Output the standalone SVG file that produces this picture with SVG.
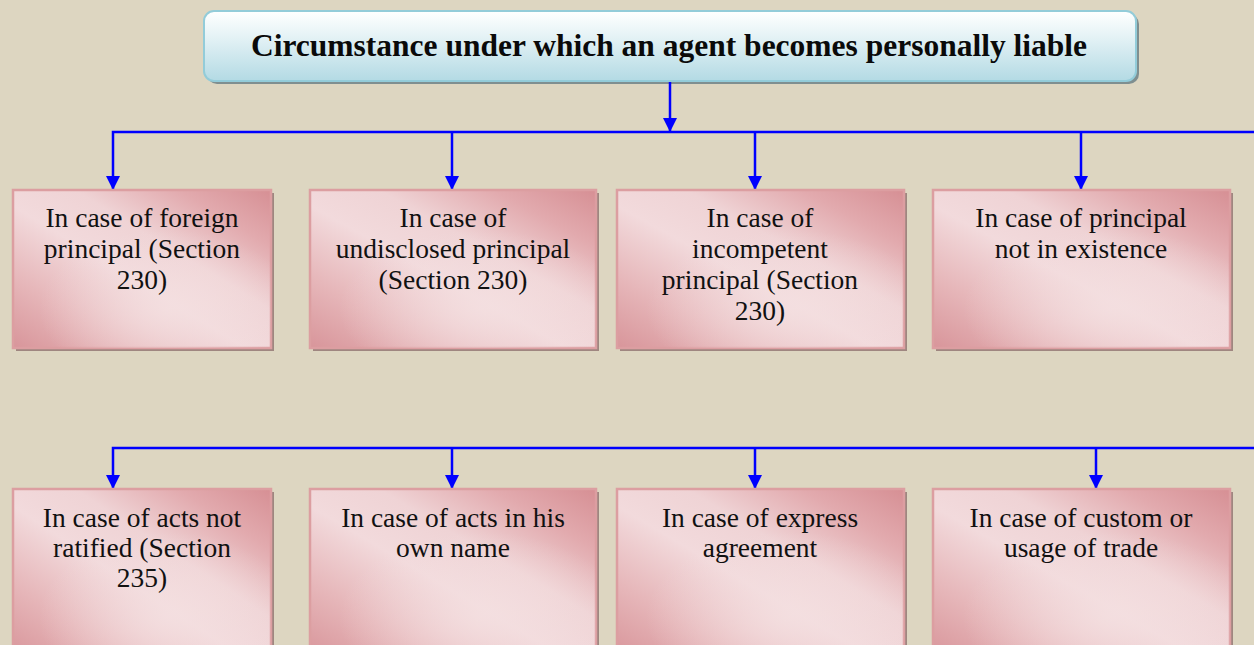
<svg xmlns="http://www.w3.org/2000/svg" width="1254" height="645" viewBox="0 0 1254 645">
<defs>
<linearGradient id="hdr" x1="0" y1="0" x2="0" y2="1">
<stop offset="0" stop-color="#ffffff"/>
<stop offset="0.35" stop-color="#e6f3f6"/>
<stop offset="1" stop-color="#b3dae4"/>
</linearGradient>
<linearGradient id="pink" x1="0" y1="1" x2="1" y2="0">
<stop offset="0" stop-color="#d8959a"/>
<stop offset="0.22" stop-color="#e6b6b9"/>
<stop offset="0.45" stop-color="#f2dadc"/>
<stop offset="0.62" stop-color="#efd3d5"/>
<stop offset="0.82" stop-color="#e2aaae"/>
<stop offset="1" stop-color="#d68f94"/>
</linearGradient>
<radialGradient id="glow" cx="0.6" cy="0.75" r="0.5">
<stop offset="0" stop-color="#f4e0e1" stop-opacity="0.8"/>
<stop offset="1" stop-color="#f4e0e1" stop-opacity="0"/>
</radialGradient>
<marker id="ah" markerWidth="14" markerHeight="14" viewBox="0 0 14 14" refX="14" refY="7" orient="auto" markerUnits="userSpaceOnUse">
<path d="M0,0 L14,7 L0,14 Z" fill="#0000ff"/>
</marker>
</defs>
<style>
.bg{fill:#ddd6c1}
.shd{fill:#9f8680}
.box{fill:url(#pink);stroke:#dc9ea1;stroke-width:2.5}
.glo{fill:url(#glow)}
.lbl{font-family:"Liberation Serif","Times New Roman",serif;font-size:27.5px;fill:#111;text-anchor:middle}
.ttl{font-family:"Liberation Serif","Times New Roman",serif;font-size:31.5px;font-weight:bold;fill:#0a0a0a;text-anchor:middle}
.con{fill:none;stroke:#0000ff;stroke-width:2.5}
</style>
<rect class="bg" x="0" y="0" width="1254" height="645"/>

<g id="header">
<rect x="207" y="14" width="932" height="70" rx="10" fill="#7f8f90"/>
<rect x="204" y="11" width="932" height="70" rx="10" fill="url(#hdr)" stroke="#93ccd9" stroke-width="2"/>
<text class="ttl" x="669" y="56">Circumstance under which an agent becomes personally liable</text>
</g>

<g id="connectors">
<path class="con" d="M670,82 V132" marker-end="url(#ah)"/>
<path class="con" d="M1254,132 H113 V190" marker-end="url(#ah)"/>
<path class="con" d="M452,132 V190" marker-end="url(#ah)"/>
<path class="con" d="M755,132 V190" marker-end="url(#ah)"/>
<path class="con" d="M1081,132 V190" marker-end="url(#ah)"/>
<path class="con" d="M1254,448 H113 V489" marker-end="url(#ah)"/>
<path class="con" d="M452,448 V489" marker-end="url(#ah)"/>
<path class="con" d="M755,448 V489" marker-end="url(#ah)"/>
<path class="con" d="M1096,448 V489" marker-end="url(#ah)"/>
</g>

<g id="n1">
<rect class="shd" x="16" y="193" width="258" height="158"/>
<rect class="box" x="13" y="190" width="258" height="158"/>
<rect class="glo" x="13" y="190" width="258" height="158"/>
<text class="lbl" x="142" y="227">In case of foreign</text>
<text class="lbl" x="142" y="258">principal (Section</text>
<text class="lbl" x="142" y="289">230)</text>
</g>
<g id="n2">
<rect class="shd" x="313" y="193" width="286" height="158"/>
<rect class="box" x="310" y="190" width="286" height="158"/>
<rect class="glo" x="310" y="190" width="286" height="158"/>
<text class="lbl" x="453" y="227">In case of</text>
<text class="lbl" x="453" y="258">undisclosed principal</text>
<text class="lbl" x="453" y="289">(Section 230)</text>
</g>
<g id="n3">
<rect class="shd" x="620" y="193" width="287" height="158"/>
<rect class="box" x="617" y="190" width="287" height="158"/>
<rect class="glo" x="617" y="190" width="287" height="158"/>
<text class="lbl" x="760" y="227">In case of</text>
<text class="lbl" x="760" y="258">incompetent</text>
<text class="lbl" x="760" y="289">principal (Section</text>
<text class="lbl" x="760" y="320">230)</text>
</g>
<g id="n4">
<rect class="shd" x="936" y="193" width="297" height="158"/>
<rect class="box" x="933" y="190" width="297" height="158"/>
<rect class="glo" x="933" y="190" width="297" height="158"/>
<text class="lbl" x="1081" y="227">In case of principal</text>
<text class="lbl" x="1081" y="258">not in existence</text>
</g>
<g id="n5">
<rect class="shd" x="16" y="492" width="258" height="170"/>
<rect class="box" x="13" y="489" width="258" height="170"/>
<rect class="glo" x="13" y="489" width="258" height="170"/>
<text class="lbl" x="142" y="527">In case of acts not</text>
<text class="lbl" x="142" y="557">ratified (Section</text>
<text class="lbl" x="142" y="587">235)</text>
</g>
<g id="n6">
<rect class="shd" x="313" y="492" width="286" height="170"/>
<rect class="box" x="310" y="489" width="286" height="170"/>
<rect class="glo" x="310" y="489" width="286" height="170"/>
<text class="lbl" x="453" y="527">In case of acts in his</text>
<text class="lbl" x="453" y="557">own name</text>
</g>
<g id="n7">
<rect class="shd" x="620" y="492" width="287" height="170"/>
<rect class="box" x="617" y="489" width="287" height="170"/>
<rect class="glo" x="617" y="489" width="287" height="170"/>
<text class="lbl" x="760" y="527">In case of express</text>
<text class="lbl" x="760" y="557">agreement</text>
</g>
<g id="n8">
<rect class="shd" x="936" y="492" width="297" height="170"/>
<rect class="box" x="933" y="489" width="297" height="170"/>
<rect class="glo" x="933" y="489" width="297" height="170"/>
<text class="lbl" x="1081" y="527">In case of custom or</text>
<text class="lbl" x="1081" y="557">usage of trade</text>
</g>
</svg>
